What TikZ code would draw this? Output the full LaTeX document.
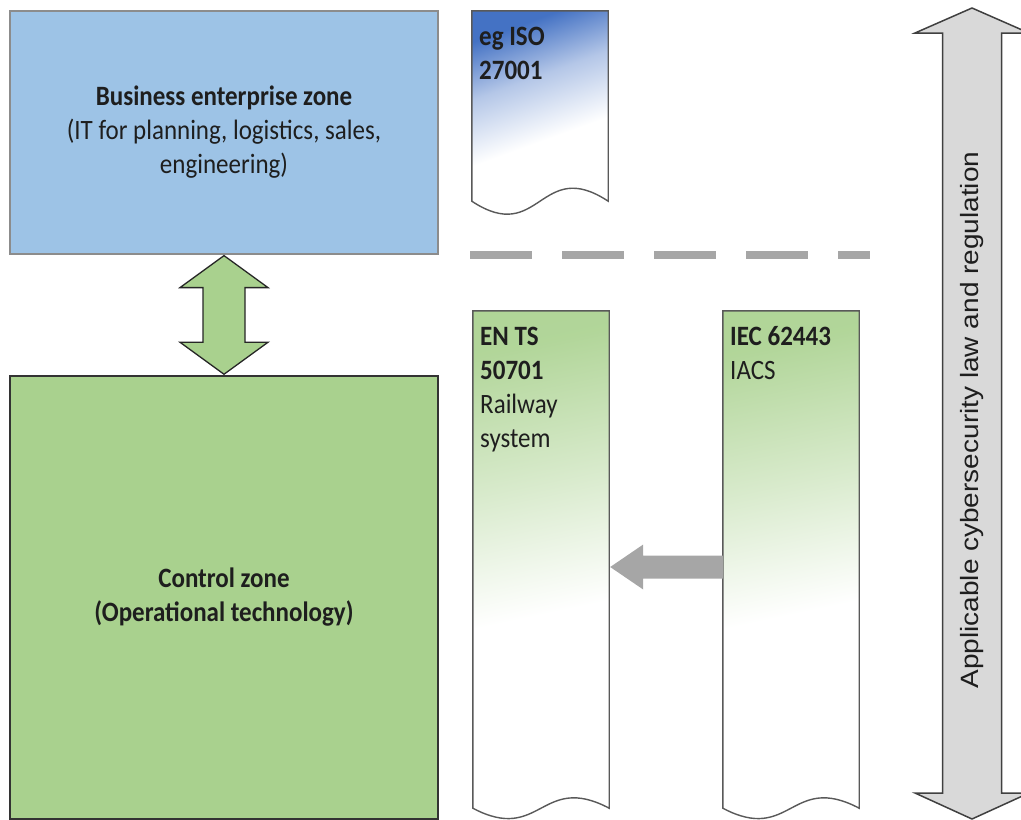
\documentclass[tikz,border=0pt]{standalone}
\usepackage{graphicx}
\usepackage{fontspec}
\setmainfont{Carlito}
\newfontfamily\arialf{Liberation Sans}
\usetikzlibrary{calc}
\definecolor{bizblue}{HTML}{9DC3E6}
\definecolor{ctlgreen}{HTML}{A9D18E}
\definecolor{isoblue}{HTML}{4472C4}
\definecolor{docgreen}{HTML}{A9D18E}
\definecolor{edgegray}{HTML}{595959}
\definecolor{txtcol}{HTML}{1E1E1E}
\definecolor{lawgray}{HTML}{D9D9D9}
\definecolor{arrgray}{HTML}{A6A6A6}
\definecolor{dashgray}{HTML}{A6A6A6}
\pgfdeclareverticalshading{isoshade}{100bp}{color(0bp)=(white); color(47bp)=(white); color(62bp)=(isoblue!40!white); color(75bp)=(isoblue); color(100bp)=(isoblue)}
\pgfdeclareverticalshading{greenshade}{100bp}{color(0bp)=(white); color(46bp)=(white); color(60bp)=(docgreen!45!white); color(75bp)=(docgreen!90!white); color(100bp)=(docgreen)}
\newcommand\vs[1]{\scalebox{1}[1.12]{#1}}
\begin{document}
\begin{tikzpicture}[x=1pt,y=-1pt,
  zonefont/.style={text=txtcol, font=\fontsize{25}{30.5}\selectfont},
  bizbox/.style={zonefont, draw=black!45, line width=1.2pt, fill=bizblue, inner sep=0pt, minimum width=428pt, minimum height=243pt},
  ctlbox/.style={zonefont, draw=black!80, line width=1.5pt, fill=ctlgreen, inner sep=0pt, minimum width=428pt, minimum height=443pt},
  docframe/.style={inner sep=0pt, minimum width=136pt},
  docline/.style={draw=edgegray, line width=1.4pt},
  doctext/.style={zonefont, inner sep=0pt, anchor=base west},
  greenarrow/.style={fill=ctlgreen, draw=black!85, line width=1.3pt, line join=miter},
  lawarrow/.style={fill=lawgray, draw=black!75, line width=1.5pt, line join=miter},
  grayarrow/.style={fill=arrgray, draw=none},
  zoneline/.style={dashgray, line width=8pt, dash pattern=on 62pt off 30pt}
]
\useasboundingbox (0,0) rectangle (1021,820);

% zones
\node[bizbox] (biz) at (224,132.5) {\vs{\begin{tabular}{@{}c@{}}\textbf{Business enterprise zone}\\(IT for planning, logistics, sales,\\engineering)\end{tabular}}};
\node[ctlbox] (ctl) at (224,597.5) {\vs{\begin{tabular}{@{}c@{}}\textbf{Control zone}\\\textbf{(Operational technology)}\end{tabular}}};

% double arrow between zones
\draw[greenarrow] ($(biz.south)+(0,1)$) -- ++(44,32) -- ++(-23,0) -- ($(ctl.north)+(21,-33)$) -- ++(23,0) -- ($(ctl.north)+(0,-1)$) -- ++(-44,-32) -- ++(23,0) -- ($(biz.south)+(-21,33)$) -- ++(-23,0) -- cycle;

% documents
\node[docframe, minimum height=190pt] (iso) at (540,106) {};
\node[docframe, minimum height=497pt] (ents) at (541,559.5) {};
\node[docframe, minimum height=497pt] (iec) at (791,559.5) {};

\shadedraw[shading=isoshade, shading angle=20, docline] (iso.north west) -- (iso.north east) -- (iso.south east) .. controls ($(iso.south)+(0,-45)$) and ($(iso.south)+(0,45)$) .. (iso.south west) -- cycle;
\shadedraw[shading=greenshade, shading angle=12, docline] (ents.north west) -- (ents.north east) -- (ents.south east) .. controls ($(ents.south)+(0,-36)$) and ($(ents.south)+(0,36)$) .. (ents.south west) -- cycle;
\shadedraw[shading=greenshade, shading angle=12, docline] (iec.north west) -- (iec.north east) -- (iec.south east) .. controls ($(iec.south)+(0,-36)$) and ($(iec.south)+(0,36)$) .. (iec.south west) -- cycle;

\node[doctext] (isotxt) at (479,45) {\vs{\begin{tabular}[t]{@{}l@{}}\textbf{eg ISO}\\\textbf{27001}\end{tabular}}};
\node[doctext] (entstxt) at (480,345) {\vs{\begin{tabular}[t]{@{}l@{}}\textbf{EN TS}\\\textbf{50701}\\Railway\\system\end{tabular}}};
\node[doctext] (iectxt) at (730,345) {\vs{\begin{tabular}[t]{@{}l@{}}\textbf{IEC 62443}\\IACS\end{tabular}}};

% zone separator
\coordinate (sepL) at (470,254.5);
\coordinate (sepR) at (870,254.5);
\draw[zoneline] (sepL) -- (sepR);

% arrow IEC -> EN TS
\coordinate (gt) at ($(ents.east)+(1,7.5)$);
\coordinate (gb) at ($(iec.west)+(0,7.5)$);
\fill[grayarrow] (gt) -- ($(gt)+(33,-22.5)$) -- ($(gt)+(33,-11.5)$) -- ($(gb)+(0,-11.5)$) -- ($(gb)+(0,11.5)$) -- ($(gt)+(33,11.5)$) -- ($(gt)+(33,22.5)$) -- cycle;

% law arrow
\coordinate (lawtop) at (972,8);
\coordinate (lawbot) at (972,819);
\draw[lawarrow] (lawtop) -- ($(lawtop)+(57,25)$) -- ($(lawtop)+(29.5,25)$) -- ($(lawbot)+(29.5,-26)$) -- ($(lawbot)+(57,-26)$) -- (lawbot) -- ($(lawbot)+(-57,-26)$) -- ($(lawbot)+(-29.5,-26)$) -- ($(lawtop)+(-29.5,25)$) -- ($(lawtop)+(-57,25)$) -- cycle;
\node[rotate=90, inner sep=0pt, text=txtcol, font=\arialf\fontsize{25}{30}\selectfont] (law) at (972,420) {\scalebox{1.12}[1]{Applicable cybersecurity law and regulation}};
\end{tikzpicture}
\end{document}
